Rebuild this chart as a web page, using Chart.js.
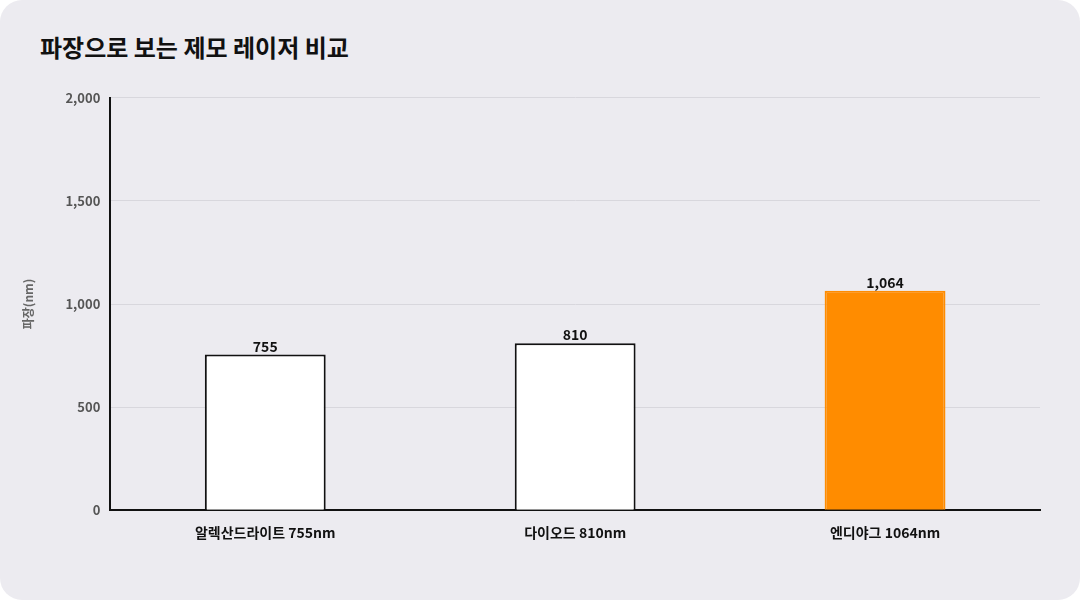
<!DOCTYPE html>
<html><head><meta charset="utf-8">
<script src="https://cdn.jsdelivr.net/npm/chart.js@4/dist/chart.umd.min.js"></script>
<style>
html,body{margin:0;padding:0;background:#fff;}
#card{position:absolute;left:0;top:0;width:1080px;height:600px;background:#ECEBF0;border-radius:22px;overflow:hidden;}
#title{position:absolute;left:40px;top:29px;font-family:"Noto Sans CJK KR";font-weight:700;font-size:24px;color:#111;}
#wrap{position:absolute;left:0;top:80px;width:1060px;height:470px;}
</style></head><body>
<div id="card"><div id="title">파장으로 보는 제모 레이저 비교</div>
<div id="wrap"><canvas id="c"></canvas></div></div>
<script>
const categories=["알렉산드라이트 755nm","다이오드 810nm","엔디야그 1064nm"];
const values=[755,810,1064];
const fills=["#FFFFFF","#FFFFFF","#FF8C00"];
const borders=["#111111","#111111","#FF8C00"];
const yTicks=[0,500,1000,1500,2000];
const font="'Noto Sans CJK KR', Inter, sans-serif";
const labels={id:'lbl',afterDatasetsDraw(ch){const c=ch.ctx;const m=ch.getDatasetMeta(0);c.save();c.font="700 14px "+font;c.fillStyle="#111";c.textAlign="center";c.textBaseline="bottom";
m.data.forEach((b,i)=>c.fillText(values[i].toLocaleString('en-US'),b.x,b.y-1));c.restore();}};
new Chart(document.getElementById('c'),{type:'bar',
data:{labels:categories,datasets:[{data:values,backgroundColor:fills,borderColor:borders,borderWidth:2,barPercentage:0.39,categoryPercentage:1}]},
options:{responsive:true,maintainAspectRatio:false,animation:false,
layout:{padding:{left:17,top:12,right:20,bottom:3}},
plugins:{legend:{display:false},tooltip:{enabled:false}},
scales:{
x:{grid:{display:false},border:{color:'#111',width:2},ticks:{color:'#111',font:{family:font,size:14,weight:'700'},padding:6}},
y:{min:0,max:2000,afterBuildTicks(a){a.ticks=yTicks.map(v=>({value:v}));},
grid:{color:'#D8D7DD',drawTicks:false},border:{color:'#111',width:2,display:true},
ticks:{color:'#555',padding:10,font:{family:font,size:13,weight:'700'},callback:v=>v.toLocaleString('en-US')},
title:{display:true,text:'파장(nm)',color:'#666',font:{family:font,size:12,weight:'700'},padding:{bottom:20}}}}},
plugins:[labels]});
</script></body></html>
